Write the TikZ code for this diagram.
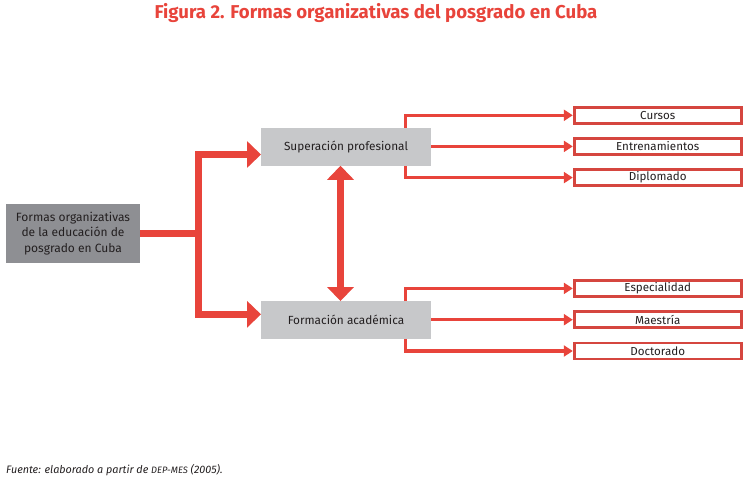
\documentclass[tikz,border=0pt]{standalone}
\usepackage{fontspec}
\setmainfont{Fira Sans}
\usetikzlibrary{arrows.meta}
\definecolor{cred}{HTML}{E8443B}
\definecolor{cbord}{HTML}{D5463F}
\definecolor{cdark}{HTML}{8E8F93}
\definecolor{clight}{HTML}{C7C8CA}
\definecolor{ctext}{HTML}{231F20}
\tikzset{
  mainbox/.style={fill=clight, draw=none, inner sep=0pt, minimum width=170pt, minimum height=37.5pt, text=ctext, font=\fontsize{11.8}{13}\selectfont},
  srcbox/.style={fill=cdark, draw=none, inner sep=0pt, minimum width=134pt, minimum height=58.5pt, text=ctext, align=center, font=\fontsize{12}{15.5}\selectfont},
  leafbox/.style={fill=white, draw=cbord, line width=2.8pt, inner sep=0pt, minimum width=167pt, minimum height=16pt, text=ctext, font=\fontsize{11.6}{12}\selectfont},
  bigarrow/.style={draw=cred, line width=6.5pt, -{Triangle[width=26pt,length=14pt]}},
  bigline/.style={draw=cred, line width=6.5pt},
  dblarrow/.style={draw=cred, line width=7pt, {Triangle[width=26pt,length=14pt]}-{Triangle[width=26pt,length=14pt]}},
  smallarrow/.style={draw=cred, line width=3.5pt, -{Triangle[width=11pt,length=9pt]}},
}
\begin{document}
\begin{tikzpicture}[x=1pt,y=-1pt]
\useasboundingbox (0,0) rectangle (747,485);
\node[text=cred, font=\fontsize{18.6}{20}\selectfont\bfseries] (title) at (376,13.5) {Figura 2. Formas organizativas del posgrado en Cuba};
\node[srcbox] (src) at (73,233.3) {Formas organizativas\\de la educación de\\posgrado en Cuba};
\node[mainbox] (sup) at (346,146.8) {Superación profesional};
\node[mainbox] (form) at (346,320) {Formación académica};
\node[leafbox] (cur) at (657.7,115.3) {Cursos};
\node[leafbox] (ent) at (657.7,146.4) {Entrenamientos};
\node[leafbox] (dip) at (657.7,177.6) {Diplomado};
\node[leafbox] (esp) at (657.7,288.4) {Especialidad};
\node[leafbox] (mae) at (657.7,319.7) {Maestría};
\node[leafbox] (doc) at (657.7,351) {Doctorado};
\coordinate (trunk) at (198.5,233.3);
\coordinate (ttop) at (198.5,151.3);
\coordinate (tbot) at (198.5,317.5);
\coordinate (supin) at (261,154.5);
\coordinate (formin) at (261,314.3);
\coordinate (bx1) at (405.5,146.8);
\coordinate (bx2) at (405.5,320);
% main connectors
\draw[bigline] (src.east) -- (trunk);
\draw[bigline, line cap=butt] (198.5,151.3) -- (198.5,317.5);
\draw[bigarrow] (ttop |- supin) ++(-3.25,0) -- (supin);
\draw[bigarrow] (tbot |- formin) ++(-3.25,0) -- (formin);
\draw[dblarrow] (sup.south -| 340.5,0) -- (form.north -| 340.5,0);
% upper branches
\draw[smallarrow] (sup.north -| bx1) |- (cur.west);
\draw[smallarrow] (sup.east |- ent.west) -- (ent.west);
\draw[smallarrow] (sup.south -| bx1) |- (dip.west);
% lower branches
\draw[smallarrow] (form.north -| bx2) |- (esp.west);
\draw[smallarrow] (form.east |- mae.west) -- (mae.west);
\draw[smallarrow] (form.south -| bx2) |- (doc.west);
\node[anchor=base west, text=ctext, font=\fontsize{10.8}{12}\selectfont\itshape, inner sep=0pt] (src2) at (6,473) {Fuente: elaborado a partir de {\fontsize{9.3}{12}\selectfont DEP-MES} (2005).};
\end{tikzpicture}
\end{document}
